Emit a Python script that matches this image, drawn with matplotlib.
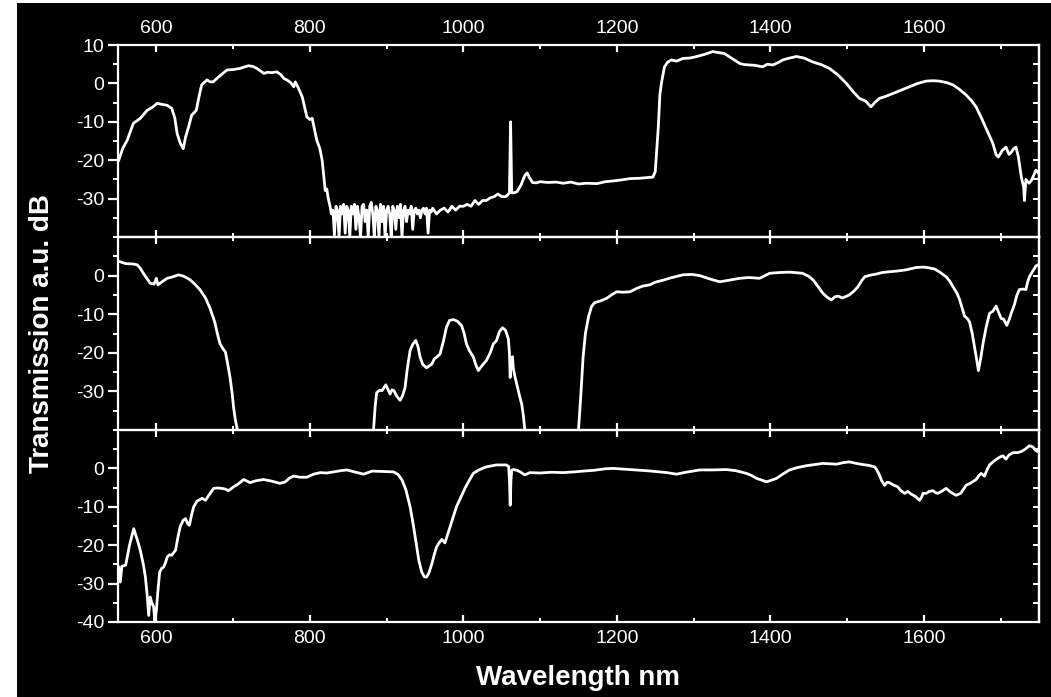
import matplotlib
matplotlib.use("Agg")
import matplotlib.pyplot as plt
from matplotlib.patches import Rectangle
from matplotlib.ticker import MultipleLocator, FixedLocator

plt.rcParams['font.family'] = ['Liberation Sans', 'DejaVu Sans']
plt.rcParams['axes.unicode_minus'] = False

# ---------------- data ----------------
top_wl = [551, 556, 562, 570, 579, 588, 595, 601, 608, 614, 620, 624, 627, 631, 635, 638, 642, 646, 652, 656,
          659, 666, 670, 674, 680, 686, 692, 700, 709, 715, 720, 726, 731, 736, 740, 745, 750, 757, 762, 766,
          770, 775, 779, 781, 785, 790, 793, 796, 800, 803, 806, 809, 813, 816, 818, 820, 822, 824, 826.5, 828,
          830, 832, 834, 836, 838, 840, 842, 844, 846, 848, 850, 852, 854, 856, 858, 860, 862, 864, 866, 868,
          870, 872, 874, 876, 878, 880, 882, 884, 886, 888, 890, 892, 894, 896, 898, 900, 902, 904, 906, 908,
          910, 912, 914, 916, 918, 920, 922, 924, 926, 928, 930, 932, 934, 936, 938, 940, 942, 944, 946, 948,
          950, 952, 954, 956, 958, 960, 965, 970, 975, 980, 985, 990, 995, 1000, 1005, 1010, 1015, 1020, 1025, 1030,
          1035, 1040, 1045, 1050, 1055, 1058, 1060, 1061.5, 1063, 1066, 1070, 1075, 1080, 1083, 1086, 1090, 1095, 1100, 1110, 1121,
          1130, 1140, 1150, 1160, 1174, 1185, 1200, 1217, 1230, 1247, 1250, 1252, 1254, 1256, 1258, 1262, 1266, 1271, 1278, 1286,
          1295, 1304, 1315, 1325, 1333, 1340, 1350, 1360, 1366, 1373, 1380, 1390, 1396, 1403, 1410, 1416, 1425, 1434, 1444, 1455,
          1466, 1477, 1488, 1499, 1508, 1516, 1524, 1531, 1536, 1542, 1550, 1560, 1570, 1581, 1592, 1603, 1612, 1620, 1630, 1638,
          1646, 1655, 1662, 1668, 1675, 1681, 1686, 1690, 1694, 1697, 1702, 1707, 1711, 1714, 1717, 1720, 1723, 1727, 1730, 1731,
          1733, 1737, 1740, 1743, 1746, 1750]
top_db = [-20, -17, -14.8, -10.4, -9.1, -7, -6.2, -5.2, -5.5, -5.7, -6.5, -9, -13, -15.5, -17, -14, -11.3, -8.3, -7, -3,
          -0.4, 0.9, 0.4, 0.4, 1.5, 2.5, 3.5, 3.6, 3.9, 4.3, 4.6, 4.4, 3.9, 3.2, 2.6, 2.9, 2.8, 3.0, 2.3, 1.3,
          0.9, 0.2, -0.9, 0.4, -1.2, -3.5, -6, -8.7, -9.4, -9.1, -12, -14.8, -17, -20, -24, -27.9, -27.5, -30, -32.2, -34,
          -33, -39.5, -32, -33, -40, -32, -34, -31.5, -39, -32, -33, -40, -32, -34, -31.5, -38, -32, -35, -40, -32,
          -31.5, -36, -33, -40, -32, -31, -34, -40, -32, -33, -40, -31.5, -36, -32, -40, -33, -32, -34, -40, -32,
          -33, -38, -32, -35, -31.5, -40, -33, -32, -36, -33, -34, -32, -38, -33, -32.5, -34, -33, -35, -33, -32.5,
          -34, -32.5, -39, -33, -33.5, -32.5, -34, -33, -32.5, -33.5, -32, -33, -32, -32, -31.5, -32, -30.5, -31.5, -30.5, -30.5,
          -29.8, -29.5, -28.8, -29.5, -29.5, -29, -28.5, -10, -28.5, -28.5, -28.2, -26.5, -24, -23.3, -24.5, -25.8, -25.9, -25.6, -25.8, -25.7,
          -26, -25.7, -26.2, -26.0, -26.1, -25.6, -25.3, -24.8, -24.7, -24.4, -23, -17, -11.3, -3, 0, 4.3, 5.5, 6.1, 5.8, 6.5,
          6.6, 7.0, 7.6, 8.3, 8.0, 7.8, 6.5, 5.2, 4.9, 4.8, 4.7, 4.3, 5.0, 4.8, 5.4, 6.1, 6.6, 7.0, 6.6, 5.6,
          4.9, 3.9, 2.2, 0, -2.2, -3.9, -4.6, -6.1, -5.0, -3.9, -3.4, -2.6, -1.8, -0.9, 0, 0.6, 0.7, 0.6, 0.2, -0.4,
          -1.5, -3.0, -4.5, -6.1, -9, -11.7, -14, -15.7, -18.5, -19.2, -17.5, -16.6, -18.5, -17.9, -17, -16.6, -19, -24.4, -27, -30.5,
          -25, -26, -25.3, -24, -22.6, -23.5]

mid_wl = [551, 560, 570, 575, 579, 585, 592, 597, 600, 602, 608, 614, 620, 629, 636, 644, 650, 657, 664, 670,
          676, 680, 683, 687, 690, 693, 696, 699, 700.6, 703, 705, 708, 880, 883, 885, 887, 891, 894, 899, 902,
          904.5, 907, 909.5, 913, 917.6, 921, 924, 927, 930.6, 934, 938, 941, 943.6, 947, 952, 959, 962, 966, 969.6, 974,
          978, 982, 987, 992, 997.6, 1001, 1004, 1008, 1013, 1016, 1019.5, 1024, 1030, 1035, 1039, 1043, 1047, 1051, 1055, 1058.6,
          1060, 1061, 1062, 1064, 1065, 1067, 1070, 1073, 1076, 1078, 1080, 1082, 1148, 1150, 1153, 1156, 1159, 1163, 1167, 1171,
          1178, 1186.6, 1193, 1199.6, 1208, 1217, 1226, 1234, 1243, 1250, 1260, 1270, 1286, 1298, 1308, 1320, 1334, 1346, 1360, 1372,
          1386, 1399, 1412, 1425, 1442, 1450, 1455.5, 1462, 1468.5, 1474, 1479.5, 1484, 1488, 1494, 1503, 1509, 1514, 1519, 1523, 1530,
          1538, 1546, 1555, 1566, 1577, 1590, 1600, 1607, 1614, 1620, 1629, 1634, 1638, 1643, 1646.7, 1650, 1653, 1657, 1659.5, 1663,
          1666, 1669, 1671, 1674, 1677, 1681, 1685.5, 1690, 1694, 1697, 1700.7, 1704, 1708, 1711, 1713.7, 1718, 1721, 1724.5, 1729, 1733,
          1735, 1737.5, 1742, 1746, 1750]
mid_db = [3.7, 3.1, 3.0, 2.8, 1.9, 0, -2.0, -2.2, -0.7, -2.4, -1.5, -0.7, -0.4, 0.2, -0.2, -1.1, -2.2, -3.7, -5.8, -8.5,
          -12, -15.5, -17.7, -19, -19.8, -23, -26.4, -31, -34.2, -37.5, -39.4, -45, -45, -39.8, -34, -30.3, -29.7, -29.8, -28.3, -29.6,
          -30.7, -29.6, -29.8, -31.2, -32.3, -31, -29, -24, -19.4, -17.8, -16.8, -18.5, -21.1, -23, -23.9, -22.9, -21.6, -21, -20.3, -17,
          -13.3, -11.6, -11.4, -11.8, -12.9, -15, -17.7, -19.5, -21.1, -23, -24.6, -23.4, -22.0, -20, -17.7, -16.9, -14.5, -13.5, -14.2, -16.4,
          -20, -26.4, -22, -21, -24, -26, -28.5, -31, -33.3, -36, -39.8, -45, -45, -40, -31, -21.1, -15, -10.7, -8, -7.0,
          -6.6, -5.9, -5.0, -4.2, -4.3, -4.2, -3.3, -2.7, -2.4, -1.7, -1.2, -0.6, 0.2, 0.3, 0, -0.8, -1.6, -1.2, -0.7, -0.5,
          -0.7, 0.6, 0.8, 0.9, 0.6, -0.2, -1.1, -2.8, -4.6, -5.6, -6.3, -5.5, -5.3, -5.8, -5.0, -4, -2.9, -1.3, -0.3, 0.1,
          0.4, 0.8, 1.0, 1.2, 1.5, 2.1, 2.2, 2.0, 1.7, 1.0, -0.3, -1.5, -2.9, -4.5, -6.3, -8.5, -10.5, -11.2, -12, -15,
          -18.5, -22, -24.6, -21.5, -17.7, -13.5, -9.8, -9.2, -7.9, -9.3, -11.1, -11.3, -12.9, -11.5, -9.8, -7.5, -5.2, -3.6, -3.5, -3.6,
          -1.8, -0.3, 1.2, 2.5, 2.9]

bot_wl = [551, 553, 555, 560, 565, 570.5, 575, 579, 583, 585.7, 588, 590, 592, 594, 596.5, 598, 600, 601.7, 604.3, 607,
          609.5, 612, 614, 617, 620, 625, 628, 631, 635, 638, 641, 643, 646, 648.6, 653, 659.5, 664, 669, 674.6, 680,
          685, 690, 694, 700.6, 707, 713.6, 718, 722, 730, 739.7, 750, 761, 768, 773, 778.7, 787, 796, 805, 813.5, 822,
          830.8, 840, 848, 858, 870, 881, 895, 909, 915, 920, 925, 930.6, 935, 939.3, 942, 945.8, 949, 952, 955, 959,
          962, 965, 968, 972, 976, 979, 982.6, 987, 991, 996, 1002, 1008, 1013, 1020, 1030, 1043, 1056, 1059, 1060, 1061,
          1062, 1063, 1065, 1070, 1074, 1080, 1086.7, 1100, 1115, 1130, 1145, 1156, 1170, 1185, 1195, 1210, 1225, 1238.7, 1250, 1265,
          1277.7, 1290, 1308, 1325, 1342.8, 1355, 1368.8, 1375, 1382, 1388, 1395, 1401, 1408, 1416, 1425, 1435, 1447, 1458, 1468.5, 1477,
          1486, 1495, 1503, 1512, 1520.6, 1528, 1535.8, 1539, 1542, 1545, 1548.8, 1552, 1555, 1560, 1566, 1570, 1575, 1579, 1583.5, 1589,
          1594.4, 1597, 1598.8, 1603, 1607, 1611.7, 1615, 1618, 1623, 1629, 1635, 1642, 1648, 1652, 1655, 1661, 1668, 1672, 1674.7, 1679,
          1682, 1685.5, 1692, 1698.5, 1703, 1707, 1711, 1716, 1722, 1727, 1732, 1737.5, 1742, 1746, 1750]
bot_db = [-25.7, -29.6, -25.5, -25.2, -20, -15.7, -18.5, -21.3, -25, -28.3, -33, -38.3, -33.5, -35, -36.1, -40, -37, -32.6, -27, -26,
          -25.7, -24.5, -23.1, -22.5, -22.6, -21.3, -18, -15.2, -13.5, -13.1, -14.5, -14.8, -12, -10, -8.5, -7.8, -8.3, -6.8, -5.2, -5.1,
          -5.2, -5.4, -5.8, -4.8, -4, -2.9, -3.3, -3.7, -3.2, -2.9, -3.3, -3.9, -3.5, -2.6, -2.0, -2.3, -2.3, -1.5, -1.1, -1.2,
          -0.9, -0.6, -0.4, -0.9, -1.5, -0.7, -0.8, -0.9, -1.6, -3.0, -5.5, -10, -15, -20.5, -24, -27, -28.2, -28.3, -27.3, -24.8,
          -22.5, -20.5, -19.5, -18.5, -19.4, -17.5, -15.2, -12.5, -10, -7.8, -5.2, -3, -1.3, -0.4, 0.4, 0.9, 0.9, 0.5, -3, -9.6,
          -3, -0.5, -0.3, -0.5, -0.9, -1.7, -1.1, -1.2, -1.0, -1.1, -0.9, -0.7, -0.5, -0.1, 0, -0.2, -0.4, -0.6, -0.8, -1.1,
          -1.5, -1.0, -0.4, -0.4, -0.3, -0.6, -1.3, -1.8, -2.6, -3, -3.5, -3.1, -2.6, -1.5, -0.4, 0.2, 0.7, 1.0, 1.3, 1.2,
          1.1, 1.5, 1.7, 1.3, 1.0, 0.8, 0.4, -0.5, -1.7, -3.2, -4.4, -3.6, -3.7, -4.3, -4.8, -5.8, -6.5, -6.0, -6.7, -7.3,
          -8.3, -7.5, -6.5, -6.5, -6.0, -5.8, -6.3, -6.5, -6.0, -5.2, -6.2, -7.0, -6.5, -5.3, -4.4, -3.8, -2.9, -1.8, -1.3, -2.0,
          -0.5, 0.9, 2.0, 2.9, 3.3, 2.4, 3.5, 4.1, 4.1, 4.4, 5.0, 5.9, 5.6, 4.6, 4.3]

x_ticks = [600, 800, 1000, 1200, 1400, 1600]
y_ticks_top = [10, 0, -10, -20, -30]
y_ticks_mid = [0, -10, -20, -30]
y_ticks_bot = [0, -10, -20, -30, -40]

x_label = "Wavelength nm"
y_label = "Transmission a.u. dB"

# ---------------- figure ----------------
W, H = 1051, 697
fig = plt.figure(figsize=(W / 100, H / 100), dpi=100, facecolor='white')
fig.patches.append(Rectangle((17 / W, 0), 1 - 17 / W, 1 - 3 / H, transform=fig.transFigure,
                             facecolor='black', edgecolor='none', zorder=-10))

left, right = 118 / W, 1039 / W
edges = [45, 237, 430, 622]
panels = [(top_wl, top_db, y_ticks_top), (mid_wl, mid_db, y_ticks_mid), (bot_wl, bot_db, y_ticks_bot)]
tick_fs = 14
axes = []
for i, (wl, db, yt) in enumerate(panels):
    y0 = 1 - edges[i + 1] / H
    hgt = (edges[i + 1] - edges[i]) / H
    ax = fig.add_axes([left, y0, right - left, hgt])
    ax.set_facecolor('none')
    ax.plot(wl, db, color='white', lw=2.0, solid_joinstyle='round')
    ax.set_xlim(550, 1750)
    ax.set_ylim(-40, 10)
    for s in ax.spines.values():
        s.set_color('white')
        s.set_linewidth(1.6)
    ax.xaxis.set_major_locator(FixedLocator(x_ticks))
    ax.xaxis.set_minor_locator(MultipleLocator(100))
    ax.yaxis.set_major_locator(FixedLocator(yt))
    ax.yaxis.set_minor_locator(MultipleLocator(5))
    ax.tick_params(axis='x', which='both', direction='in', top=True, bottom=True,
                   colors='white', labelsize=tick_fs, labelbottom=(i == 2), labeltop=(i == 0))
    ax.tick_params(axis='x', which='major', length=5, width=1.6, pad=6)
    ax.tick_params(axis='x', which='minor', length=3, width=1.4)
    ax.tick_params(axis='y', which='both', direction='out', left=True, right=False,
                   colors='white', labelsize=tick_fs)
    ax.tick_params(axis='y', which='major', length=7, width=1.6, pad=3)
    ax.tick_params(axis='y', which='minor', length=3.5, width=1.4)
    sec = ax.secondary_yaxis('right')
    sec.yaxis.set_major_locator(MultipleLocator(5))
    sec.tick_params(axis='y', which='major', direction='in', length=4, width=1.4,
                    colors='white', labelright=False)
    sec.spines['right'].set_color('white')
    sec.spines['right'].set_linewidth(1.6)
    axes.append(ax)

fig.text(0.5495, 1 - 685 / H, x_label, ha='center', va='baseline', color='white',
         fontsize=20, fontweight='bold')
fig.text(0.040, 1 - 333.5 / H, y_label, ha='center', va='center', rotation=90, color='white',
         fontsize=20, fontweight='bold')

fig.savefig('out.png', dpi=100, facecolor=fig.get_facecolor())
